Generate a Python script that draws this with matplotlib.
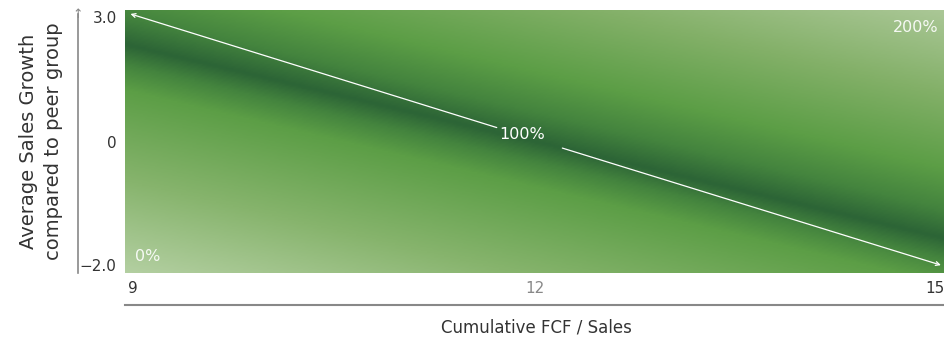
import numpy as np
import matplotlib.pyplot as plt
from matplotlib.colors import LinearSegmentedColormap
import matplotlib.transforms as mtransforms

plt.rcParams['font.family'] = ['DejaVu Sans']

# axes ranges and labels
x_ticks = [9, 12, 15]
x_tick_labels = ['9', '12', '15']
y_tick_labels = ['\u22122.0', '0', '3.0']
y_tick_pos = [0.0, 0.5, 1.0]
level_labels = ['0%', '100%', '200%']
level_values = [0, 100, 200]
# weight of FCF vs sales growth in the combined score
w_fcf, w_growth = 0.85, 1.15

# colour ramp for combined score, light -> bright -> dark -> bright -> light
ramp = [(0.0, '#b3cfa1'), (0.2, '#87b46d'), (0.4, '#5c9e46'),
        (0.455, '#44843e'), (0.5, '#2c6436'), (0.565, '#44843e'),
        (0.655, '#5c9e46'), (0.82, '#83b068'), (1.0, '#aac796')]
cmap = LinearSegmentedColormap.from_list('score', ramp)

fig = plt.figure(figsize=(9.45, 3.37), dpi=100)
ax = fig.add_axes([125 / 945, 64 / 337, 820 / 945, 263 / 337])

xs = np.linspace(x_ticks[0], x_ticks[-1], 400)
ys = np.linspace(0, 1, 200)
X, Y = np.meshgrid(xs, ys)
score = (w_fcf * (X - x_ticks[0]) / (x_ticks[-1] - x_ticks[0]) + w_growth * Y) * 100
ax.imshow(score, cmap=cmap, vmin=level_values[0], vmax=level_values[-1],
          origin='lower', aspect='auto', interpolation='bilinear',
          extent=[x_ticks[0], x_ticks[-1], 0, 1])
ax.set_xlim(x_ticks[0], x_ticks[-1])
ax.set_ylim(0, 1)
for s in ax.spines.values():
    s.set_visible(False)

# diagonal 100% line with a gap for its label
ax.text(11.905, 0.525, level_labels[1], color='white', fontsize=11.5,
        ha='center', va='center')
arrow = dict(arrowstyle='->', color='white', lw=0.9, shrinkA=0, shrinkB=0,
             mutation_scale=7)
ax.annotate('', xy=(9.04, 0.985), xytext=(11.72, 0.553), arrowprops=arrow)
ax.annotate('', xy=(14.97, 0.03), xytext=(12.2, 0.475), arrowprops=arrow)

ax.text(0.012, 0.062, level_labels[0], transform=ax.transAxes, color='white',
        fontsize=11.5, alpha=0.9, ha='left', va='center')
ax.text(0.992, 0.935, level_labels[2], transform=ax.transAxes, color='white',
        fontsize=11.5, alpha=0.9, ha='right', va='center')

# y ticks
ax.set_yticks(y_tick_pos)
ax.set_yticklabels(y_tick_labels, fontsize=11, color='#333333')
ax.tick_params(axis='y', length=0, pad=6)
ylabels = ax.get_yticklabels()
ylabels[0].set_transform(ylabels[0].get_transform() +
                         mtransforms.ScaledTranslation(0, 0.08, fig.dpi_scale_trans))
ylabels[2].set_transform(ylabels[2].get_transform() +
                         mtransforms.ScaledTranslation(0, -0.07, fig.dpi_scale_trans))

# x ticks
ax.set_xticks(x_ticks)
ax.set_xticklabels(x_tick_labels, fontsize=11)
ax.tick_params(axis='x', length=0, pad=6)
xlabels = ax.get_xticklabels()
xlabels[0].set_color('#333333')
xlabels[1].set_color('#888888')
xlabels[2].set_color('#333333')
xlabels[0].set_transform(xlabels[0].get_transform() +
                         mtransforms.ScaledTranslation(0.08, 0, fig.dpi_scale_trans))
xlabels[2].set_horizontalalignment('right')

# vertical axis arrow on the left
ax_x = 78 / 945
fig.add_artist(plt.Line2D([ax_x, ax_x], [64 / 337, 1 - 14 / 337],
                          color='#888888', lw=1.2))
fig.text(ax_x, 1 - 8 / 337, '\u2191', color='#888888', fontsize=9,
         ha='center', va='top')
# horizontal rule under the x tick labels
fig.add_artist(plt.Line2D([125 / 945, 1], [1 - 305 / 337, 1 - 305 / 337],
                          color='#888888', lw=1.5))

fig.text(41 / 945, 1 - 141 / 337, 'Average Sales Growth\ncompared to peer group',
         rotation=90, ha='center', va='center', fontsize=14, color='#333333',
         linespacing=1.45)
fig.text(536 / 945, 1 - 327 / 337, 'Cumulative FCF / Sales', ha='center',
         va='center', fontsize=12, color='#333333')

fig.savefig('out.png', dpi=100)
